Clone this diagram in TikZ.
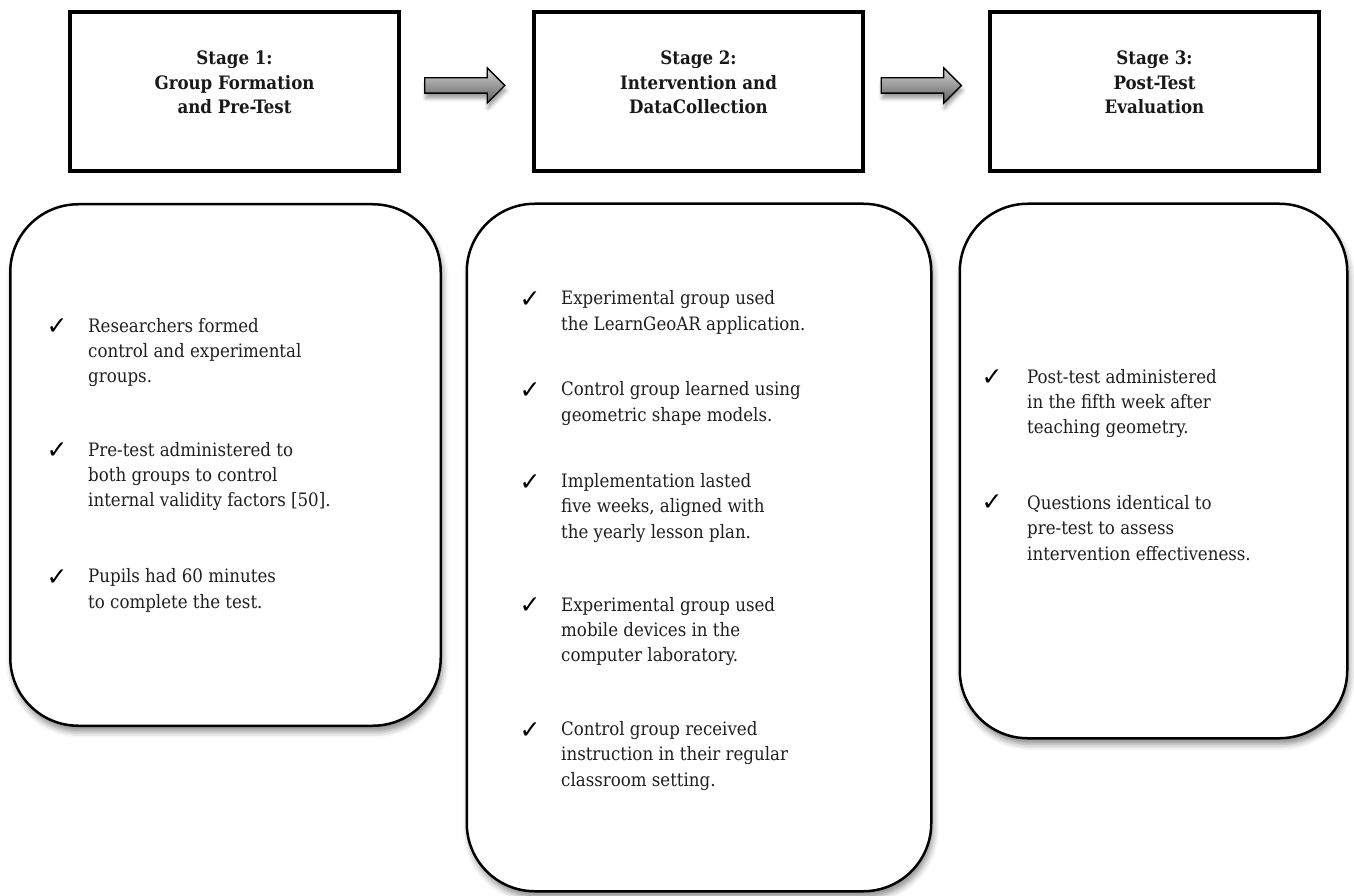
\documentclass[tikz,border=0pt]{standalone}
\usepackage{fontspec}
\setmainfont{DejaVu Serif Condensed}
\newfontfamily\tickfont{DejaVu Sans}
\usetikzlibrary{shapes.arrows, shadows.blur, positioning, calc}
\tikzset{
  stagebox/.style={
    rectangle, draw=black, line width=4pt, fill=white,
    minimum width=329pt, minimum height=159pt, inner sep=0pt
  },
  stagetext/.style={
    align=center, inner sep=0pt, text=black!90,
    font=\fontsize{18.5}{24.5}\selectfont\bfseries
  },
  panel/.style={
    rectangle, rounded corners=68pt, draw=black, line width=2.5pt,
    fill=white, inner sep=0pt,
    blur shadow={shadow xshift=2pt, shadow yshift=-6pt,
      shadow blur radius=6pt, shadow opacity=45}
  },
  steptext/.style={
    anchor=west, align=left, inner sep=0pt, text=black!88,
    font=\fontsize{18.5}{25.3}\selectfont
  },
  tick/.style={inner sep=0pt, font=\tickfont\fontsize{25}{25}\selectfont},
  flowarrow/.style={
    single arrow, draw=black, line width=1.3pt,
    top color=gray!35, bottom color=gray!75!black,
    minimum height=80pt, minimum width=34pt,
    inner xsep=0pt, inner ysep=7pt,
    single arrow head extend=10pt, single arrow tip angle=90,
    blur shadow={shadow xshift=1pt, shadow yshift=-5pt,
      shadow blur radius=4pt, shadow opacity=40}
  },
}
\begin{document}
\begin{tikzpicture}[x=1pt, y=-1pt]
  \useasboundingbox (0,0) rectangle (1354,896);

  % stages
  \node[stagebox] (s1) at (234.5,91.5) {};
  \node[stagebox] (s2) at (698.5,91.5) {};
  \node[stagebox] (s3) at (1154.5,91.5) {};
  \node[stagetext] (s1t) at ([yshift=9pt]s1.center) {Stage 1:\\Group Formation\\and Pre-Test};
  \node[stagetext] (s2t) at ([yshift=9pt]s2.center) {Stage 2:\\Intervention and\\DataCollection};
  \node[stagetext] (s3t) at ([yshift=9pt]s3.center) {Stage 3:\\Post-Test\\Evaluation};

  \node[flowarrow] (ar1) at (461,85.5) {};
  \node[flowarrow] (ar2) at (917.5,85.5) {};

  % panels
  \node[panel, minimum width=430.5pt, minimum height=521.5pt] (pa) at (225.5,465) {};
  \node[panel, minimum width=464.5pt, minimum height=687.5pt] (pb) at (699,547.5) {};
  \node[panel, minimum width=387.5pt, minimum height=534.5pt] (pc) at (1153.5,471) {};

  \node[steptext] (a1) at (88,352.5) {Researchers formed\\control and experimental\\groups.};
  \node[steptext] (a2) at (88,476.5) {Pre-test administered to\\both groups to control\\internal validity factors [50].};
  \node[steptext] (a3) at (88,590.5) {Pupils had 60 minutes\\to complete the test.};

  \node[steptext] (b1) at (561,312.5) {Experimental group used\\the LearnGeoAR application.};
  \node[steptext] (b2) at (561,403.5) {Control group learned using\\geometric shape models.};
  \node[steptext] (b3) at (561,508) {Implementation lasted\\five weeks, aligned with\\the yearly lesson plan.};
  \node[steptext] (b4) at (561,631.5) {Experimental group used\\mobile devices in the\\computer laboratory.};
  \node[steptext] (b5) at (561,756) {Control group received\\instruction in their regular\\classroom setting.};

  \node[steptext] (c1) at (1027,403.5) {Post-test administered\\in the fifth week after\\teaching geometry.};
  \node[steptext] (c2) at (1027,528) {Questions identical to\\pre-test to assess\\intervention effectiveness.};

  \foreach \x/\y [count=\i] in {57/327, 57/451, 57/578, 530/300, 530/391, 530/483,
      530/606, 530/731, 992/378, 992/503}
    \node[tick] (tk\i) at (\x,\y) {✓};
\end{tikzpicture}
\end{document}
